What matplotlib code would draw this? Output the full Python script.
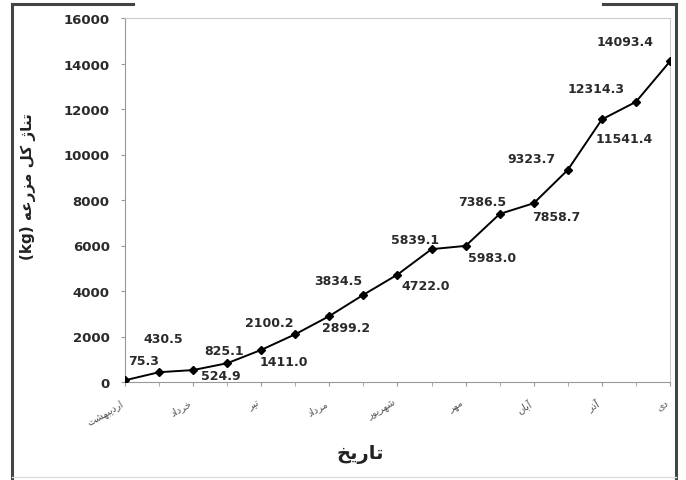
import numpy as np
import matplotlib
matplotlib.use("Agg")
import matplotlib.pyplot as plt
from matplotlib.lines import Line2D

# وزن کل مزرعه در هر نوبت نمونه برداری (kg)
tonnage = [75.3, 430.5, 524.9, 825.1, 1411.0, 2100.2, 2899.2, 3834.5, 4722.0,
           5839.1, 5983.0, 7386.5, 7858.7, 9323.7, 11541.4, 12314.3, 14093.4]

# month names (already shaped into presentation forms, visual order)
months = [
    "\uFE96\uFEB8\uFEEC\uFE92\uFEF3\uFEA9\uFEAD\uFE8D",  # اردیبهشت
    "\uFEA9\uFE8D\uFEA9\uFEAE\uFEA7",                    # خرداد
    "\uFEAE\uFEF4\uFE97",                                # تیر
    "\uFEA9\uFE8D\uFEA9\uFEAE\uFEE3",                    # مرداد
    "\uFEAD\uFEEE\uFEF3\uFEAE\uFEEC\uFEB7",              # شهریور
    "\uFEAE\uFEEC\uFEE3",                                # مهر
    "\uFEE5\uFE8E\uFE91\uFE81",                          # آبان
    "\uFEAD\uFEAB\uFE81",                                # آذر
    "\uFEEF\uFEA9",                                      # دی
]
xlabel = "\uFEA6\uFEF3\uFEAD\uFE8E\uFE97"  # تاریخ
ylabel = ("(kg) " + "\uFEEA\uFECB\uFEAD\uFEB0\uFEE3" + " "
          + "\uFEDE\uFB90" + " " + "\uFB8A\uFE8E\uFEE8\uFE97")  # تناژ کل مزرعه (kg)

# where each value label sits relative to its point (pixels)
lbl_off = [(19, 20), (4, 34), (28, -5), (-3, 13), (23, -12), (-26, 12),
           (17, -11), (-25, 14), (28, -11), (-16, 10), (26, -12), (-17, 12),
           (23, -13), (-36, 11), (22, -19), (-40, 13), (-45, 20)]

x = np.arange(len(tonnage))

fig = plt.figure(figsize=(6.86, 4.81), dpi=100)
ax = fig.add_axes([125/686, 1-383/481, 545/686, 364/481])

ax.plot(x, tonnage, color='black', lw=1.4, marker='D', ms=4, zorder=3)

for i, v in enumerate(tonnage):
    ax.annotate(f"{v:.1f}", (i, v), xytext=lbl_off[i], textcoords='offset pixels',
                ha='center', va='center', fontsize=9, fontweight='bold',
                color='#2a2a2a')

ax.set_xlim(0, 16)
ax.set_ylim(0, 16000)
ax.set_yticks(np.arange(0, 16001, 2000))
ax.set_xticks(x[::2])
ax.set_xticklabels(months, rotation=30, ha='right', fontsize=7, color='#555555')
ax.set_xticks(x, minor=True)
ax.tick_params(axis='x', which='both', length=3, color='#999999', pad=8)
ax.tick_params(axis='y', length=3, color='#999999', labelsize=9.5, labelcolor='#2a2a2a', pad=8)
for lbl in ax.get_yticklabels():
    lbl.set_fontweight('bold')

for side in ['top', 'right']:
    ax.spines[side].set_color('#cccccc')
for side in ['left', 'bottom']:
    ax.spines[side].set_color('#999999')

fig.text(360/686, 1-455/481, xlabel, ha='center', va='center',
         fontsize=14, fontweight='bold', color='#222222')
fig.text(28/686, 1-187/481, ylabel, ha='center', va='center', rotation=90,
         fontsize=11, fontweight='bold', color='#222222')

# outer frame from the scanned page
frame = dict(color='#444444', lw=2.2, transform=fig.transFigure)
W, H = 686, 481
fig.add_artist(Line2D([12/W, 133/W], [1-5/H, 1-5/H], **frame))
fig.add_artist(Line2D([12/W, 12/W], [1-5/H, 0], **frame))
fig.add_artist(Line2D([603/W, 676/W], [1-5/H, 1-5/H], **frame))
fig.add_artist(Line2D([676/W, 676/W], [1-5/H, 0], **frame))
fig.add_artist(Line2D([12/W, 676/W], [3/H, 3/H], color='#dddddd', lw=1,
                      transform=fig.transFigure))

plt.savefig('out.png', dpi=100)
plt.close()
